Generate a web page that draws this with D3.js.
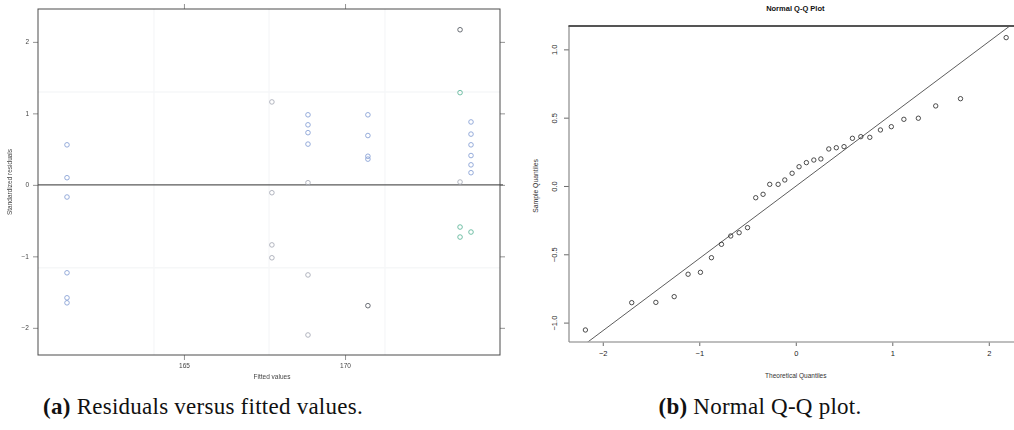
<!DOCTYPE html>
<html>
<head>
<meta charset="utf-8">
<script src="https://cdn.jsdelivr.net/npm/d3@7"></script>
<style>
  html, body { margin: 0; padding: 0; background: #fff; }
  svg { display: block; }
</style>
</head>
<body>
<svg id="fig" width="1014" height="430"></svg>
<script>
// ---- Panel (a): standardized residuals against fitted values ----
const fittedValues = [
  161.37, 161.37, 161.37, 161.37, 161.37, 161.37,
  167.73, 167.73, 167.73, 167.73,
  168.85, 168.85, 168.85, 168.85, 168.85, 168.85, 168.85,
  170.71, 170.71, 170.71, 170.71, 170.71,
  173.57, 173.57, 173.57, 173.57, 173.57,
  173.91, 173.91, 173.91, 173.91, 173.91, 173.91, 173.91
];
const stdResiduals = [
  0.56, 0.10, -0.17, -1.23, -1.58, -1.65,
  1.16, -0.11, -0.84, -1.02,
  0.98, 0.84, 0.73, 0.57, 0.03, -1.26, -2.10,
  0.98, 0.69, 0.40, 0.36, -1.69,
  2.17, 1.29, 0.04, -0.59, -0.73,
  0.88, 0.71, 0.56, 0.41, 0.28, 0.17, -0.66
];
const pointGroup = [
  "A", "A", "A", "A", "A", "A",
  "C", "C", "C", "C",
  "A", "A", "A", "A", "C", "C", "C",
  "A", "A", "A", "A", "D",
  "D", "B", "C", "B", "B",
  "A", "A", "A", "A", "A", "A", "B"
];
const residTicksX = [165, 170];
const residTicksY = [-2, -1, 0, 1, 2];
const residGridX = [164.07, 167.64, 171.24];
const residGridY = [-1.16, 1.30];

// ---- Panel (b): normal Q-Q plot ----
const theoreticalQ = [
  -2.18, -1.70, -1.45, -1.26, -1.116, -0.988, -0.874, -0.77, -0.674, -0.587,
  -0.50, -0.415, -0.339, -0.27, -0.183, -0.114, -0.038, 0.034, 0.11, 0.187,
  0.26, 0.342, 0.42, 0.50, 0.587, 0.674, 0.767, 0.877, 0.99, 1.12,
  1.27, 1.45, 1.707, 2.18
];
const sampleQ = [
  -1.054, -0.854, -0.852, -0.81, -0.646, -0.632, -0.525, -0.427, -0.366, -0.342,
  -0.305, -0.086, -0.061, 0.012, 0.012, 0.044, 0.093, 0.141, 0.171, 0.19,
  0.198, 0.271, 0.28, 0.288, 0.349, 0.361, 0.356, 0.41, 0.434, 0.488,
  0.496, 0.586, 0.639, 1.086
];
const qqLine = { intercept: -0.002, slope: 0.529 };
const qqTicksX = [-2, -1, 0, 1, 2];
const qqTicksY = [-1.0, -0.5, 0.0, 0.5, 1.0];

const captions = [
  { tag: "(a)", text: " Residuals versus fitted values." },
  { tag: "(b)", text: " Normal Q-Q plot." }
];

const svg = d3.select("#fig");
svg.append("rect").attr("width", 1014).attr("height", 430).attr("fill", "#fff");

const fmtMinus = s => String(s).replace("-", "\u2212");

// ================= Panel (a) =================
(function residualPanel() {
  const defs = svg.append("defs");
  defs.append("filter").attr("id", "soft")
    .attr("x", "-5%").attr("y", "-5%").attr("width", "110%").attr("height", "110%")
    .append("feGaussianBlur").attr("stdDeviation", 0.45);

  const g = svg.append("g").attr("filter", "url(#soft)");
  const x = d3.scaleLinear().domain([160.47, 174.81]).range([38, 500]);
  const y = d3.scaleLinear().domain([-2.38, 2.46]).range([355, 9]);
  const color = d3.scaleOrdinal()
    .domain(["A", "B", "C", "D"])
    .range(["#8aa3d6", "#62b89c", "#a9adb8", "#5a5f66"]);

  // faint reference grid
  g.selectAll("line.gx").data(residGridX).join("line")
    .attr("x1", d => x(d)).attr("x2", d => x(d))
    .attr("y1", y.range()[1]).attr("y2", y.range()[0])
    .attr("stroke", "#f3f4f6").attr("stroke-width", 1);
  g.selectAll("line.gy").data(residGridY).join("line")
    .attr("y1", d => y(d)).attr("y2", d => y(d))
    .attr("x1", x.range()[0]).attr("x2", x.range()[1])
    .attr("stroke", "#f6f7f8").attr("stroke-width", 1.5);

  // zero line
  g.append("line")
    .attr("x1", x.range()[0]).attr("x2", x.range()[1] + 3)
    .attr("y1", y(0)).attr("y2", y(0))
    .attr("stroke", "#5a5a5a").attr("stroke-width", 1.1);

  // points
  g.selectAll("circle.pt").data(fittedValues).join("circle")
    .attr("cx", d => x(d))
    .attr("cy", (d, i) => y(stdResiduals[i]))
    .attr("r", 2.3)
    .attr("fill", "none")
    .attr("stroke", (d, i) => color(pointGroup[i]))
    .attr("stroke-width", 0.9);

  // axes (lattice style: ticks on all four sides, labels left/bottom)
  const axL = d3.axisLeft(y).tickValues(residTicksY).tickSize(5).tickPadding(4).tickFormat(fmtMinus);
  const axR = d3.axisRight(y).tickValues(residTicksY).tickSize(5).tickFormat("");
  const axB = d3.axisBottom(x).tickValues(residTicksX).tickSize(5).tickPadding(3);
  const axT = d3.axisTop(x).tickValues(residTicksX).tickSize(5).tickFormat("");
  const styleAx = sel => {
    sel.select(".domain").remove();
    sel.selectAll(".tick line").attr("stroke", "#777").attr("stroke-width", 0.8);
    sel.selectAll(".tick text").attr("fill", "#444")
      .style("font-family", "Liberation Sans, Arial, sans-serif").style("font-size", "6.5px");
  };
  g.append("g").attr("transform", `translate(${x.range()[0]},0)`).call(axL).call(styleAx);
  g.append("g").attr("transform", `translate(${x.range()[1]},0)`).call(axR).call(styleAx);
  g.append("g").attr("transform", `translate(0,${y.range()[0]})`).call(axB).call(styleAx);
  g.append("g").attr("transform", `translate(0,${y.range()[1]})`).call(axT).call(styleAx);

  // frame
  g.append("rect")
    .attr("x", x.range()[0]).attr("y", y.range()[1])
    .attr("width", x.range()[1] - x.range()[0]).attr("height", y.range()[0] - y.range()[1])
    .attr("fill", "none").attr("stroke", "#4a4a4a").attr("stroke-width", 1);

  // axis titles
  g.append("text")
    .attr("x", (x.range()[0] + x.range()[1]) / 2 + 3).attr("y", 379)
    .attr("text-anchor", "middle").attr("fill", "#444")
    .style("font-family", "Liberation Sans, Arial, sans-serif").style("font-size", "6.5px")
    .text("Fitted values");
  g.append("text")
    .attr("transform", `translate(12,${(y.range()[0] + y.range()[1]) / 2}) rotate(-90)`)
    .attr("text-anchor", "middle").attr("fill", "#444")
    .style("font-family", "Liberation Sans, Arial, sans-serif").style("font-size", "6.5px")
    .text("Standardized residuals");
})();

// ================= Panel (b) =================
(function qqPanel() {
  const g = svg.append("g");
  const x = d3.scaleLinear().domain([-2.35, 2.34]).range([569, 1021.6]);
  const y = d3.scaleLinear().domain([-1.142, 1.171]).range([342, 26]);

  const clip = svg.append("defs").append("clipPath").attr("id", "qqclip");
  clip.append("rect").attr("x", x.range()[0]).attr("y", y.range()[1])
    .attr("width", x.range()[1] - x.range()[0]).attr("height", y.range()[0] - y.range()[1]);

  // reference line
  const [x0, x1] = x.domain();
  g.append("line").attr("clip-path", "url(#qqclip)")
    .attr("x1", x(x0)).attr("y1", y(qqLine.intercept + qqLine.slope * x0))
    .attr("x2", x(x1)).attr("y2", y(qqLine.intercept + qqLine.slope * x1))
    .attr("stroke", "#333").attr("stroke-width", 0.8);

  // points
  g.selectAll("circle.qq").data(theoreticalQ).join("circle")
    .attr("cx", d => x(d))
    .attr("cy", (d, i) => y(sampleQ[i]))
    .attr("r", 2.2)
    .attr("fill", "none").attr("stroke", "#222").attr("stroke-width", 0.8);

  const font = sel => sel.style("font-family", "Liberation Sans, Arial, sans-serif");

  // axes
  const axB = d3.axisBottom(x).tickValues(qqTicksX).tickSize(4).tickPadding(5).tickFormat(d => fmtMinus(d));
  const axL = d3.axisLeft(y).tickValues(qqTicksY).tickSize(5).tickFormat(d => fmtMinus(d3.format(".1f")(d)));
  const gb = g.append("g").attr("transform", `translate(0,${y.range()[0]})`).call(axB);
  gb.select(".domain").remove();
  gb.selectAll(".tick line").attr("stroke", "#444").attr("stroke-width", 0.8);
  gb.selectAll(".tick text").attr("fill", "#222").call(font).style("font-size", "7.5px");

  const gl = g.append("g").attr("transform", `translate(${x.range()[0]},0)`).call(axL);
  gl.select(".domain").remove();
  gl.selectAll(".tick line").attr("stroke", "#444").attr("stroke-width", 0.8);
  gl.selectAll(".tick text")
    .attr("x", null).attr("dy", null)
    .attr("text-anchor", "middle")
    .attr("transform", "translate(-12,0) rotate(-90)")
    .attr("fill", "#222").call(font).style("font-size", "7.5px");

  // frame
  g.append("line").attr("x1", x.range()[0]).attr("x2", 1014)
    .attr("y1", y.range()[0]).attr("y2", y.range()[0])
    .attr("stroke", "#a9a9a9").attr("stroke-width", 1.6);
  g.append("line").attr("x1", x.range()[0]).attr("x2", x.range()[0])
    .attr("y1", y.range()[1]).attr("y2", y.range()[0])
    .attr("stroke", "#8a8a8a").attr("stroke-width", 1.2);
  g.append("line").attr("x1", x.range()[0] - 0.6).attr("x2", 1014)
    .attr("y1", y.range()[1]).attr("y2", y.range()[1])
    .attr("stroke", "#555").attr("stroke-width", 2);

  // titles
  g.append("text").attr("x", (x.range()[0] + x.range()[1]) / 2).attr("y", 11)
    .attr("text-anchor", "middle").attr("fill", "#111").attr("font-weight", "bold")
    .call(font).style("font-size", "7.5px").text("Normal Q-Q Plot");
  g.append("text").attr("x", x(0)).attr("y", 378)
    .attr("text-anchor", "middle").attr("fill", "#333")
    .call(font).style("font-size", "6.5px").text("Theoretical Quantiles");
  g.append("text")
    .attr("transform", `translate(538,${y(0)}) rotate(-90)`)
    .attr("text-anchor", "middle").attr("fill", "#333")
    .call(font).style("font-size", "6.8px").text("Sample Quantiles");
})();

// ================= Captions =================
const capX = [203, 760];
captions.forEach((c, i) => {
  const t = svg.append("text")
    .attr("x", capX[i]).attr("y", 414)
    .attr("text-anchor", "middle").attr("fill", "#111")
    .style("font-family", "'Liberation Serif', 'DejaVu Serif', serif")
    .style("font-size", "23px")
    .style("letter-spacing", "0.25px");
  t.append("tspan").attr("font-weight", "bold").text(c.tag);
  t.append("tspan").text(c.text);
});
</script>
</body>
</html>
